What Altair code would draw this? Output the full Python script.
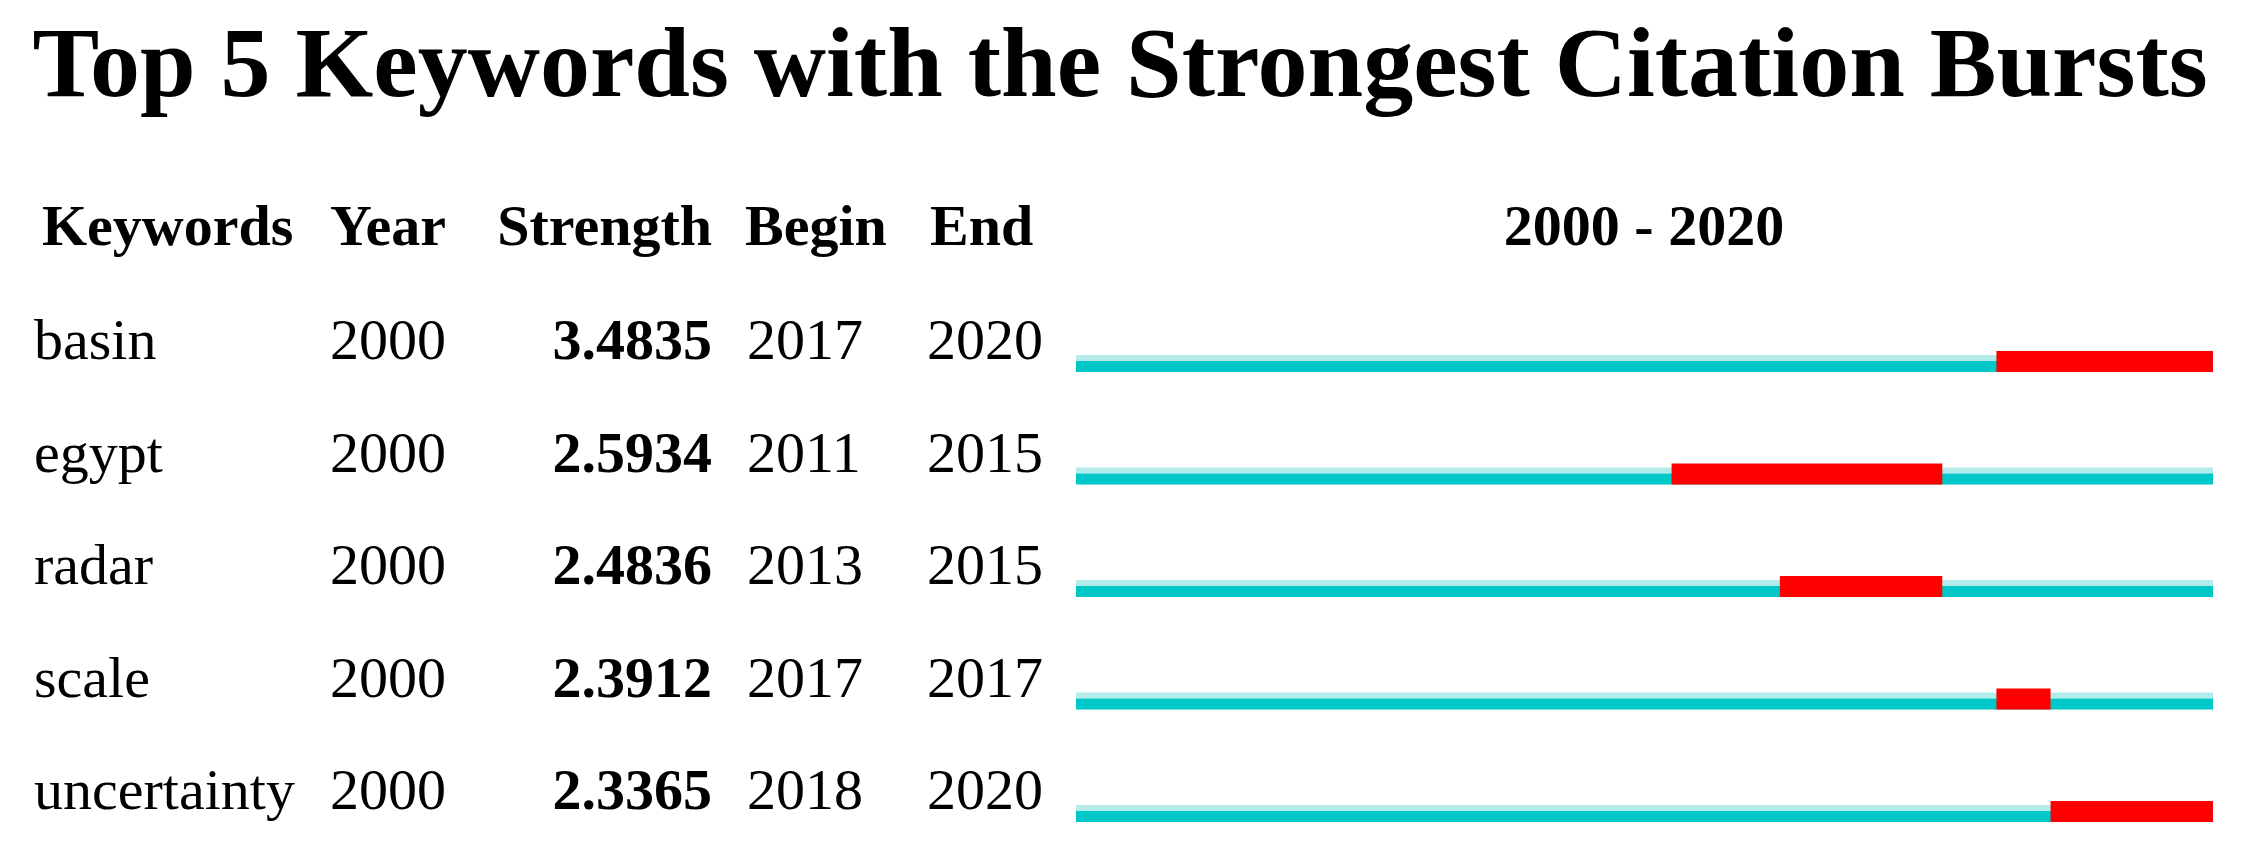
import altair as alt
import pandas as pd

# ---- data ----
title_text = "Top 5 Keywords with the Strongest Citation Bursts"
headers = ["Keywords", "Year", "Strength", "Begin", "End"]
period_label = "2000 - 2020"
keywords = ["basin", "egypt", "radar", "scale", "uncertainty"]
years = [2000, 2000, 2000, 2000, 2000]
strengths = [3.4835, 2.5934, 2.4836, 2.3912, 2.3365]
begins = [2017, 2011, 2013, 2017, 2018]
ends = [2020, 2015, 2015, 2017, 2020]
period_start = 2000
period_end = 2020

df = pd.DataFrame({
    "row": list(range(len(keywords))),
    "keyword": keywords,
    "year": [str(y) for y in years],
    "strength": [f"{s:.4f}" for s in strengths],
    "begin": [str(b) for b in begins],
    "end": [str(e) for e in ends],
    "burst_start": begins,
    "burst_end": [e + 1 for e in ends],
    "line_start": [period_start] * len(keywords),
    "line_end": [period_end + 1] * len(keywords),
})

FONT = "Liberation Serif"
W, H = 2229, 847

xs = alt.Scale(domain=[period_start, period_end + 1], range=[1068, 2205], nice=False, zero=False)
ys = alt.Scale(domain=[0, len(keywords) - 1], range=[364, 814], nice=False, zero=False)

base = alt.Chart(df)

light = base.mark_rule(color="#B4ECEC", strokeWidth=6, yOffset=-14).encode(
    x=alt.X("line_start:Q", scale=xs, axis=None),
    x2="line_end:Q",
    y=alt.Y("row:Q", scale=ys, axis=None),
)
teal = base.mark_rule(color="#00C8C8", strokeWidth=11, yOffset=-5.5).encode(
    x=alt.X("line_start:Q", scale=xs, axis=None),
    x2="line_end:Q",
    y=alt.Y("row:Q", scale=ys, axis=None),
)
red = base.mark_rule(color="#FF0000", strokeWidth=21, yOffset=-10.5).encode(
    x=alt.X("burst_start:Q", scale=xs, axis=None),
    x2="burst_end:Q",
    y=alt.Y("row:Q", scale=ys, axis=None),
)

def col_text(field, xpx, align, bold=False):
    return base.mark_text(
        font=FONT, fontSize=58, align=align, baseline="alphabetic",
        fontWeight="bold" if bold else "normal", color="black", yOffset=-13,
    ).encode(
        x=alt.value(xpx),
        y=alt.Y("row:Q", scale=ys, axis=None),
        text=f"{field}:N",
    )

cols = [
    col_text("keyword", 26, "left"),
    col_text("year", 322, "left"),
    col_text("strength", 704, "right", bold=True),
    col_text("begin", 739, "left"),
    col_text("end", 919, "left"),
]

header_layout = [(34, "left"), (322, "left"), (704, "right"), (737, "left"), (922, "left")]
header_marks = []
for h, (xpx, al) in zip(headers, header_layout):
    header_marks.append(
        alt.Chart(pd.DataFrame({"t": [h]})).mark_text(
            font=FONT, fontSize=58, fontWeight="bold", align=al, baseline="alphabetic", color="black"
        ).encode(x=alt.value(xpx), y=alt.value(237), text="t:N")
    )
header_marks.append(
    alt.Chart(pd.DataFrame({"t": [period_label]})).mark_text(
        font=FONT, fontSize=58, fontWeight="bold", align="center", baseline="alphabetic", color="black"
    ).encode(x=alt.value(1636), y=alt.value(237), text="t:N")
)

title = alt.Chart(pd.DataFrame({"t": [title_text]})).mark_text(
    font=FONT, fontSize=100, fontWeight="bold", align="center", baseline="alphabetic", color="black"
).encode(x=alt.value(1112), y=alt.value(88), text="t:N")

chart = alt.layer(light, teal, red, *cols, *header_marks, title).properties(
    width=W, height=H,
    autosize=alt.AutoSizeParams(type="none"),
    padding=0,
    background="white",
).configure_view(stroke=None)

chart.save("out.html", embed_options={"renderer": "svg", "actions": False})
